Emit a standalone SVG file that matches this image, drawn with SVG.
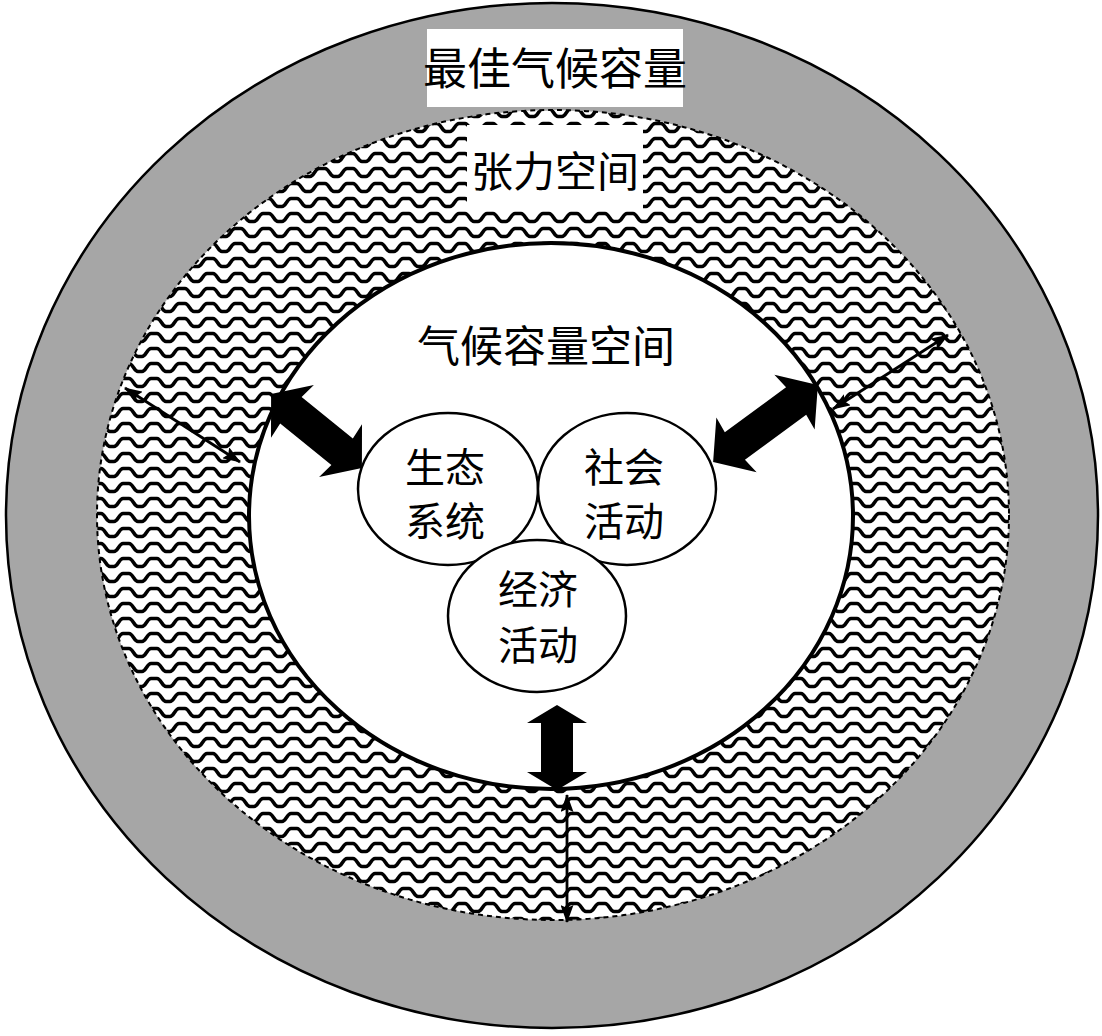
<svg xmlns="http://www.w3.org/2000/svg" width="1102" height="1036" viewBox="0 0 1102 1036">
  <style>
    .lbl { font-family: "Noto Sans CJK SC", "Noto Sans", sans-serif; fill: #000; text-anchor: middle; }
    .big { font-size: 43px; }
    .nl { font-size: 40px; }
    .thin { stroke: #000; stroke-width: 2.8; fill: none; marker-start: url(#ah); marker-end: url(#ah); }
    .thick { fill: #000; }
    .node { fill: #fff; stroke: #000; stroke-width: 2.5; }
  </style>
  <defs>
    <pattern id="waves" patternUnits="userSpaceOnUse" x="0" y="0" width="28" height="15">
      <rect width="28" height="15" fill="#fff"/>
      <path d="M-2,11.5 L2,11.5 C6,11.5 7,3.5 11,3.5 L17,3.5 C21,3.5 22,11.5 26,11.5 L30,11.5" fill="none" stroke="#000" stroke-width="3.5"/>
    </pattern>
    <marker id="ah" viewBox="0 0 18 13" refX="17" refY="6.5" markerWidth="18" markerHeight="13" markerUnits="userSpaceOnUse" orient="auto-start-reverse">
      <path d="M0,0 L18,6.5 L0,13 L3,6.5 Z" fill="#000"/>
    </marker>
  </defs>

  <rect width="1102" height="1036" fill="#fff"/>

  <g id="optimal-capacity">
    <ellipse cx="552" cy="515.5" rx="546" ry="512.5" fill="#a6a6a6" stroke="#000" stroke-width="2.5"/>
  </g>

  <g id="tension-space">
    <ellipse cx="553" cy="515" rx="456" ry="405" fill="url(#waves)" stroke="#000" stroke-width="2" stroke-dasharray="5 4"/>
  </g>

  <g id="label-optimal">
    <rect x="427" y="29" width="256" height="78" fill="#fff"/>
    <text class="lbl" x="555" y="85" font-size="44">最佳气候容量</text>
  </g>

  <g id="label-tension">
    <rect x="467" y="125" width="176" height="86" fill="#fff"/>
    <text class="lbl" x="555" y="187" font-size="42">张力空间</text>
  </g>

  <g id="climate-capacity-space">
    <ellipse cx="551" cy="516" rx="302" ry="273" fill="#fff" stroke="#000" stroke-width="4"/>
    <text class="lbl big" x="546" y="362">气候容量空间</text>
  </g>

  <g id="connectors">
    <polygon class="thick" transform="translate(316.5,431) rotate(39.1)" points="-58.5,0 -31,-34 -33,-17 33,-17 31,-34 58.5,0 31,34 33,17 -33,17 -31,34"/>
    <polygon class="thick" transform="translate(765.5,423.5) rotate(-36.3)" points="-65,0 -36,-34 -38,-17 38,-17 36,-34 65,0 36,34 38,17 -38,17 -36,34"/>
    <polygon class="thick" transform="translate(557,747.5) rotate(90)" points="-42.5,0 -24.5,-30 -24.5,-16 24.5,-16 24.5,-30 42.5,0 24.5,30 24.5,16 -24.5,16 -24.5,30"/>
    <line class="thin" x1="125" y1="388" x2="240" y2="462"/>
    <line class="thin" x1="833" y1="409" x2="948" y2="335"/>
    <line class="thin" x1="567" y1="795" x2="567" y2="922"/>
  </g>

  <g id="ecosystem">
    <ellipse class="node" cx="448" cy="489" rx="90" ry="76"/>
    <text class="lbl nl" x="445" y="482">生态</text>
    <text class="lbl nl" x="445" y="536">系统</text>
  </g>

  <g id="social-activity">
    <ellipse class="node" cx="627" cy="489" rx="89" ry="76"/>
    <text class="lbl nl" x="624" y="482">社会</text>
    <text class="lbl nl" x="624" y="536">活动</text>
  </g>

  <g id="economic-activity">
    <ellipse class="node" cx="537" cy="616" rx="89" ry="76"/>
    <text class="lbl nl" x="538" y="603.5">经济</text>
    <text class="lbl nl" x="538" y="659.5">活动</text>
  </g>
</svg>
